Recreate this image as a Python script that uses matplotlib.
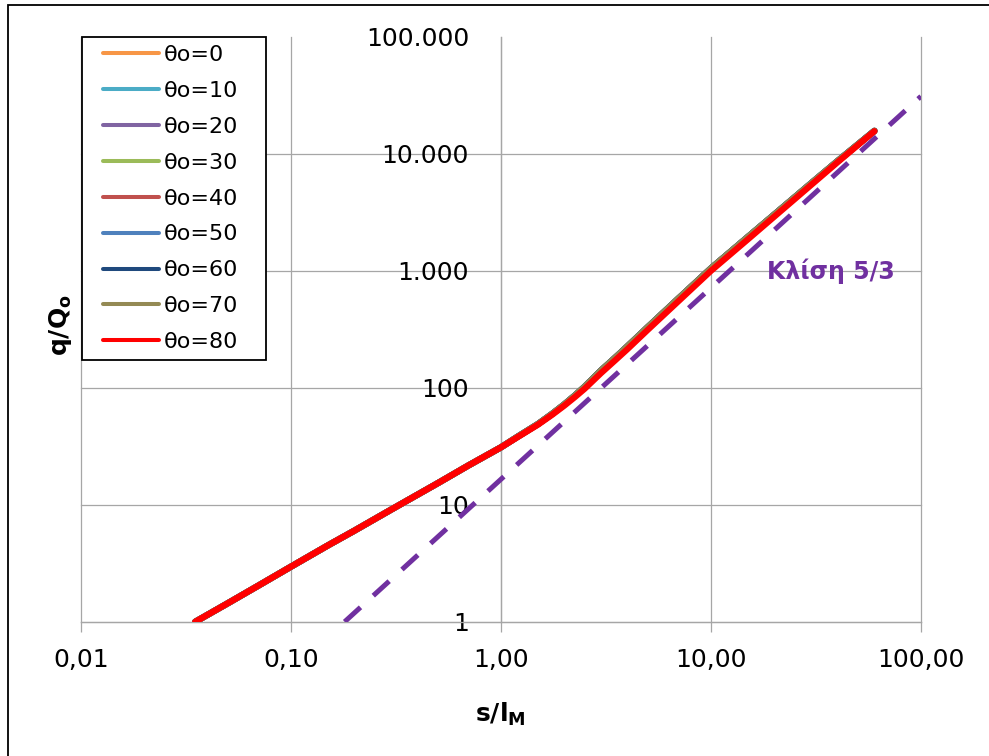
import matplotlib
matplotlib.use('Agg')
import matplotlib.pyplot as plt
from matplotlib.lines import Line2D
from matplotlib.patches import Rectangle
from matplotlib.ticker import NullLocator

# ---------------- data ----------------
s_ratio = [0.035, 0.05, 0.07, 0.1, 0.15, 0.2, 0.3, 0.5, 0.7, 1.0, 1.2, 1.5,
           1.75, 2.0, 2.25, 2.5, 3.0, 3.5, 4.0, 5.0, 7.0, 10, 15, 20, 30, 40, 60]
q_theta_80 = [1.0, 1.44, 2.04, 2.96, 4.5, 6.0, 9.1, 15.3, 21.7, 31, 37.9, 48.4,
              58.7, 70.3, 83.4, 98, 134, 172, 214, 313, 550, 1000, 1860,
              2900, 5420, 8450, 15600]
q_theta_0_70 = [1.0, 1.44, 2.04, 2.96, 4.5, 6.0, 9.1, 15.3, 21.7, 31, 38.2, 49,
                59.8, 72, 86, 102, 141, 181, 226, 330, 580, 1050, 1950,
                3020, 5600, 8650, 15700]
slope_x = [0.18, 100]
slope_y = [1.0, 31000]
slope_label = 'Κλίση 5/3'
theta_labels = ['θo=0', 'θo=10', 'θo=20', 'θo=30', 'θo=40',
                'θo=50', 'θo=60', 'θo=70', 'θo=80']
x_ticks = [0.01, 0.1, 1, 10, 100]
x_tick_labels = ['0,01', '0,10', '1,00', '10,00', '100,00']
y_ticks = [1, 10, 100, 1000, 10000, 100000]
y_tick_labels = ['1', '10', '100', '1.000', '10.000', '100.000']

# ---------------- style ----------------
colors = ['#F79646', '#4BACC6', '#8064A2', '#9BBB59', '#C0504D',
          '#4F81BD', '#1F497D', '#948A54', '#FF0000']
purple = '#7030A0'
gc = '#A6A6A6'

W, H = 989, 756
fig = plt.figure(figsize=(W / 100, H / 100), dpi=100)
ax = fig.add_axes([81 / W, 1 - 621.8 / H, (921 - 81) / W, (621.8 - 36.8) / H])
ax.set_xscale('log')
ax.set_yscale('log')
ax.set_xlim(0.01, 100)
ax.set_ylim(1, 1e5)

for xv in x_ticks:
    ax.axvline(xv, color=gc, lw=0.9, zorder=0.5, clip_on=False)
for yv in y_ticks[:-1]:
    ax.axhline(yv, color=gc, lw=0.9, zorder=0.5, clip_on=False)

for sp in ['top', 'right']:
    ax.spines[sp].set_visible(False)
ax.spines['left'].set_position(('data', 1))
ax.spines['left'].set_color(gc)
ax.spines['bottom'].set_color(gc)
ax.spines['left'].set_linewidth(0.9)
ax.spines['bottom'].set_linewidth(0.9)

ax.set_xticks(x_ticks, x_tick_labels)
ax.set_yticks(y_ticks, y_tick_labels)
ax.xaxis.set_minor_locator(NullLocator())
ax.yaxis.set_minor_locator(NullLocator())
ax.tick_params(axis='x', direction='out', length=7, width=0.9, color=gc,
               labelsize=18, pad=12)
ax.tick_params(axis='y', length=0, labelsize=18, pad=23)

for i in range(8):
    ax.plot(s_ratio, q_theta_0_70, color=colors[i], lw=4.5,
            solid_capstyle='round', solid_joinstyle='round', zorder=3)
ax.plot(s_ratio, q_theta_80, color=colors[8], lw=4.5,
        solid_capstyle='round', solid_joinstyle='round', zorder=4)
ax.plot(slope_x, slope_y, color=purple, lw=3.6, dashes=(4.3, 3.46),
        dash_capstyle='butt', zorder=5)

ax.text(18.5, 1000, slope_label, fontsize=17, fontweight='bold',
        color=purple, ha='left', va='center', zorder=6)

fig.text(500 / W, 1 - 714 / H, r'$\mathbf{s/l}_\mathbf{M}$',
         ha='center', va='center', fontsize=18)
fig.text(60 / W, 1 - 325 / H, r'$\mathbf{q/Q}_\mathbf{o}$', rotation=90,
         ha='center', va='center', fontsize=18)

# legend box
fig.add_artist(Rectangle((81.7 / W, 1 - 360 / H), (265.7 - 81.7) / W,
                         (360 - 37.3) / H, transform=fig.transFigure,
                         fc='white', ec='black', lw=1.3, zorder=4))
handles = [Line2D([], [], color=c, lw=2.9, solid_capstyle='round')
           for c in colors]
fig.legend(handles, theta_labels, loc='upper left',
           bbox_to_anchor=(103 / W, 1 - 45 / H), bbox_transform=fig.transFigure,
           frameon=False, borderpad=0, borderaxespad=0, fontsize=16,
           handlelength=2.52, handletextpad=0.22, labelspacing=0.715)

# outer chart border (left/top visible)
fig.add_artist(Rectangle((7.5 / W, -0.05), 1.2, (756 - 5) / H + 0.05,
                         transform=fig.transFigure, fill=False, ec='black',
                         lw=1.3, clip_on=False))

fig.savefig('out.png', dpi=100)
